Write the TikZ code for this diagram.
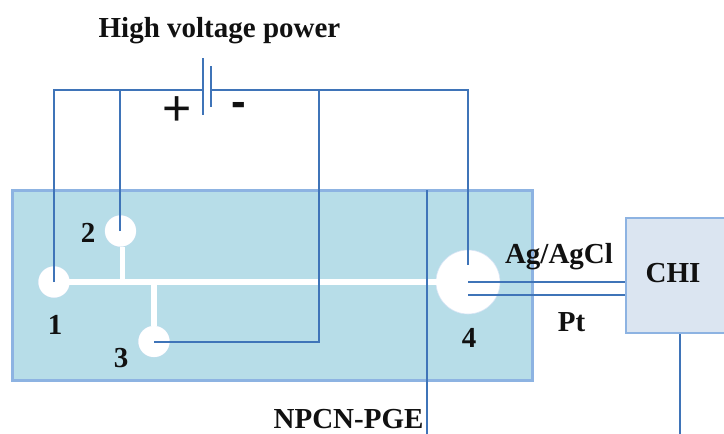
\documentclass[tikz,border=0pt]{standalone}
\usepackage{fontspec}
\setmainfont{Liberation Serif}
\newfontfamily\symfont{Liberation Sans}
\definecolor{chipfill}{HTML}{B7DDE8}
\definecolor{chipedge}{HTML}{8DB3E2}
\definecolor{chifill}{HTML}{DBE5F1}
\definecolor{wire}{HTML}{3F74B8}
\definecolor{ink}{HTML}{111111}
\tikzset{
  chipbox/.style={draw=chipedge,fill=chipfill,line width=3pt,rectangle,minimum width=520pt,minimum height=190pt,inner sep=0pt},
  chibox/.style={draw=chipedge,fill=chifill,line width=2.5pt,rectangle,minimum width=140pt,minimum height=115pt,inner sep=0pt},
  well/.style={circle,fill=white,draw=chipedge!35,line width=.6pt,inner sep=0pt,minimum size=#1},
  channel/.style={draw=white,line width=5.5pt},
  wireline/.style={draw=wire,line width=1.7pt},
  plateline/.style={draw=wire,line width=1.7pt},
  lab/.style={font=\bfseries\fontsize{29}{31}\selectfont,text=ink,inner sep=0pt},
}
\begin{document}
\begin{tikzpicture}[x=1pt,y=-1pt]
\useasboundingbox (0,0) rectangle (724,434);
\clip (0,0) rectangle (724,434);
\node[chipbox] (chip) at (272,285) {};
\node[chibox] (chi) at (696,275.5) {};
% channels
\coordinate (j2) at (122.5,283);
\coordinate (j3) at (154,283);
\node[well=31pt] (w1) at (54,282) {};
\node[well=31pt] (w2) at (120.5,231) {};
\node[well=31pt] (w3) at (154,341.5) {};
\node[well=64pt] (w4) at (468,282) {};
\draw[channel] (w1.center) -- (w4.center);
\draw[channel] (j2|-w2.south) -- ([yshift=3pt]j2);
\draw[channel] (j3) -- (w3.north-|j3);
\node[well=31pt,draw=none] at (w1) {};
\node[well=31pt,draw=none] at (w2) {};
\node[well=31pt,draw=none] at (w3) {};
% battery and wiring
\coordinate (pa) at (203,90);
\coordinate (pb) at (211,90);
\coordinate (ta) at (54,90);
\coordinate (tb) at (120,90);
\coordinate (tc) at (319,90);
\coordinate (td) at (468,90);
\coordinate (tc2) at (319,342);
\coordinate (e4) at (468,265);
\coordinate (ag) at (468,282);
\coordinate (pt) at (468,295);
\coordinate (npa) at (427,190);
\coordinate (npb) at (427,434);
\coordinate (chb) at (680,434);
\draw[plateline] (203,58) -- (203,115);
\draw[plateline] (211,66) -- (211,107);
\draw[wireline] (54,282) -- (ta) -- (pa);
\draw[wireline] (120,231) -- (tb);
\draw[wireline] (pb) -- (td) -- (e4);
\draw[wireline] (tc) -- (tc2) -- (154,342);
\draw[wireline] (ag) -- (ag-|chi.west);
\draw[wireline] (pt) -- (pt-|chi.west);
\draw[wireline] (npa) -- (npb);
\draw[wireline] (chb|-chi.south) -- (chb);
% labels
\node[lab] (title) at (219.5,31) {High voltage power};
\node[inner sep=0pt,text=ink,font=\symfont\fontsize{50}{50}\selectfont] (plus) at (177,111) {+};
\node[inner sep=0pt,text=ink,font=\symfont\bfseries\fontsize{44}{44}\selectfont] (minus) at (238.5,109) {-};
\node[lab] (n1) at (55,325) {1};
\node[lab] (n2) at (88,233) {2};
\node[lab] (n3) at (121,358) {3};
\node[lab] (n4) at (469,338) {4};
\node[lab] (agl) at (559,257) {Ag/AgCl};
\node[lab] (ptl) at (571.5,322) {Pt};
\node[lab] (chil) at (673,273) {CHI};
\node[lab] (npl) at (348.5,419.5) {NPCN-PGE};
\end{tikzpicture}
\end{document}
